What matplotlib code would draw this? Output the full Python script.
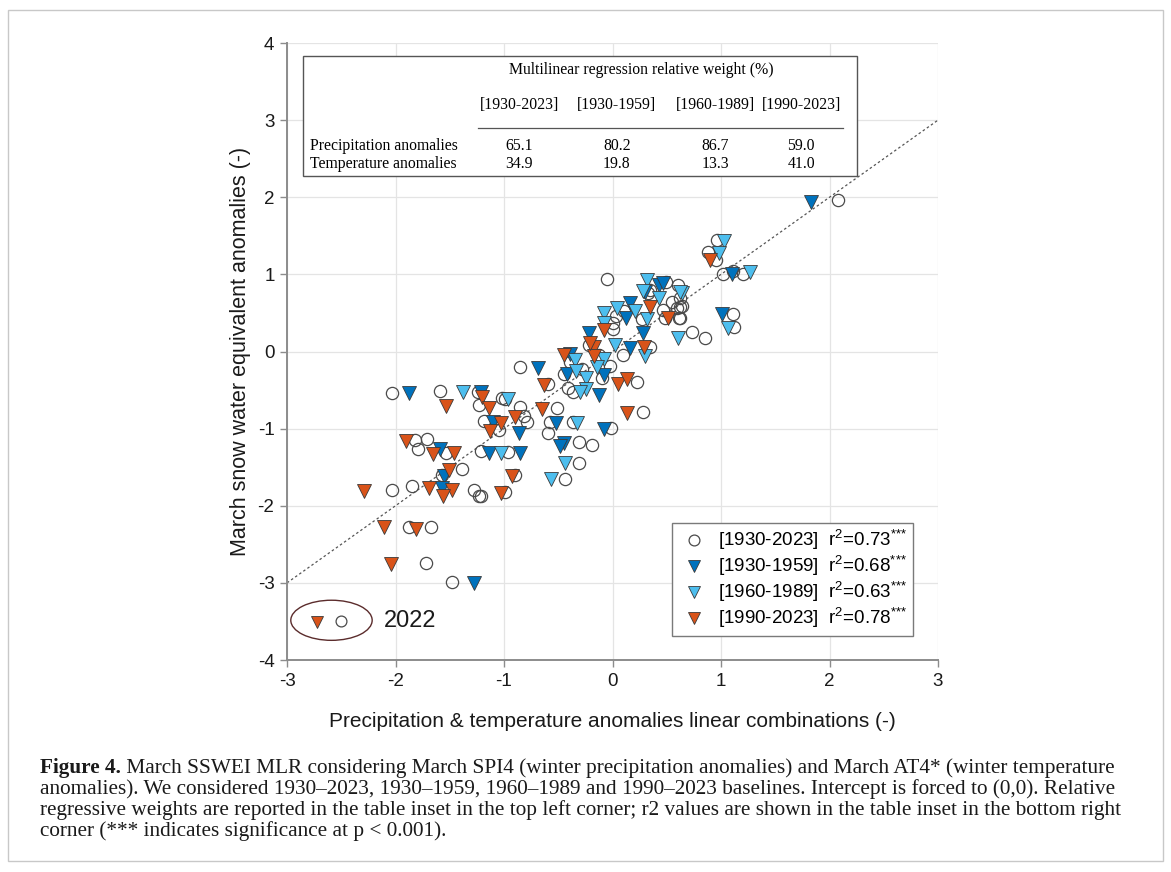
import matplotlib
matplotlib.use("Agg")
import matplotlib.pyplot as plt
from matplotlib.lines import Line2D
from matplotlib.patches import Ellipse, Rectangle
import numpy as np

plt.rcParams['font.family'] = ['Liberation Sans', 'DejaVu Sans']
plt.rcParams['axes.unicode_minus'] = False
plt.rcParams['mathtext.fontset'] = 'custom'
plt.rcParams['mathtext.rm'] = 'Liberation Sans'
plt.rcParams['mathtext.it'] = 'Liberation Sans:italic'
plt.rcParams['mathtext.bf'] = 'Liberation Sans:bold'

# ---------------- data ----------------
all_x = [2.08, 0.96, 0.88, 0.95, 1.11, 1.20, 1.11, 1.12, 0.73, 0.85, 0.64, 0.62,
         -0.05, 0.49, 0.35, 0.60, 0.55, 0.62, 0.62, 0.59, 0.47, 0.11, 0.03, 0.27,
         0.48, 0.61, 0.00, 0.00, 0.35, 0.10, -0.22, -0.12, -0.02, -0.39, -0.45,
         -0.28, -0.10, 0.23, -0.41, -0.36, -0.59, -0.85, 0.28, -0.51, -1.02, -0.99,
         -0.85, -0.82, -0.79, -1.18, -1.05, -0.58, -0.36, -0.01, -0.59, -0.31,
         -0.19, -0.96, -1.21, -0.31, -0.44, -0.90, -0.99, -1.21, -2.03, -1.59,
         -1.24, -1.23, -1.82, -1.71, -1.79, -1.53, -1.39, -1.57, -2.03, -1.85,
         -1.28, -1.23, -1.88, -1.67, -1.72, -1.48, 0.33, 1.02]
all_y = [1.96, 1.44, 1.29, 1.18, 1.05, 1.01, 0.49, 0.32, 0.25, 0.17, 0.59, 0.44,
         0.94, 0.90, 0.80, 0.86, 0.64, 0.69, 0.58, 0.57, 0.54, 0.52, 0.46, 0.42,
         0.44, 0.43, 0.37, 0.29, 0.06, -0.05, 0.08, -0.04, -0.19, -0.14, -0.29,
         -0.23, -0.34, -0.40, -0.47, -0.53, -0.42, -0.20, -0.78, -0.73, -0.60, -0.62,
         -0.72, -0.83, -0.92, -0.90, -1.02, -0.92, -0.92, -0.99, -1.06, -1.17,
         -1.21, -1.30, -1.29, -1.44, -1.65, -1.60, -1.82, -1.88, -0.54, -0.51,
         -0.53, -0.69, -1.15, -1.14, -1.26, -1.31, -1.52, -1.60, -1.80, -1.75,
         -1.79, -1.88, -2.27, -2.28, -2.74, -2.99, 0.76, 1.01]

p1_x = [1.83, 1.10, 1.01, 0.43, 0.47, 0.16, 0.12, 0.28, 0.30, -0.22, 0.16, -0.39,
        -0.42, -0.08, -0.12, -0.69, -1.10, -0.86, -0.52, -0.08, -0.45, -0.48,
        -1.14, -0.85, -1.88, -1.21, -1.59, -1.55, -1.57, -1.28]
p1_y = [1.94, 1.00, 0.48, 0.86, 0.89, 0.63, 0.44, 0.24, 0.77, 0.24, 0.05, -0.03,
        -0.29, -0.31, -0.57, -0.21, -0.92, -1.06, -0.93, -1.00, -1.18, -1.22,
        -1.31, -1.31, -0.54, -0.53, -1.27, -1.61, -1.77, -3.00]

p2_x = [1.03, 0.98, 1.27, 1.06, 0.64, 0.60, 0.32, 0.28, 0.43, 0.62, 0.04, 0.21,
        -0.08, 0.32, -0.08, 0.02, 0.30, -0.35, -0.08, -0.14, -0.34, -0.24, -0.24,
        -0.30, -0.96, -0.33, -1.03, -0.44, -0.57, -1.38]
p2_y = [1.43, 1.28, 1.03, 0.31, 0.76, 0.18, 0.93, 0.79, 0.70, 0.77, 0.57, 0.53,
        0.50, 0.42, 0.37, 0.09, -0.06, -0.11, -0.10, -0.20, -0.25, -0.35, -0.48,
        -0.53, -0.62, -0.93, -1.31, -1.45, -1.65, -0.53]

p3_x = [0.90, 0.35, 0.51, -0.08, 0.29, -0.45, -0.17, -0.17, 0.05, 0.13, -0.63,
        0.13, -0.65, -1.20, -1.14, -0.90, -1.03, -1.13, -0.93, -1.03, -1.53,
        -1.90, -1.65, -1.46, -1.51, -2.29, -1.69, -1.48, -1.56, -2.11, -1.81,
        -2.04, -0.21]
p3_y = [1.18, 0.58, 0.43, 0.28, 0.06, -0.04, 0.06, -0.06, -0.42, -0.36, -0.43,
        -0.80, -0.74, -0.59, -0.73, -0.85, -0.93, -1.03, -1.62, -1.83, -0.71,
        -1.16, -1.33, -1.31, -1.53, -1.81, -1.77, -1.80, -1.87, -2.28, -2.30,
        -2.75, 0.11]

periods = ['[1930-2023]', '[1930-1959]', '[1960-1989]', '[1990-2023]']
r2_vals = ['0.73', '0.68', '0.63', '0.78']
row_labels = ['Precipitation anomalies', 'Temperature anomalies']
precip_w = ['65.1', '80.2', '86.7', '59.0']
temp_w = ['34.9', '19.8', '13.3', '41.0']
highlight_year = '2022'
hl_tri = (-2.72, -3.51)
hl_circ = (-2.50, -3.50)

c_dark = '#0072BD'
c_light = '#4DBEEE'
c_orange = '#D95319'
edge = '#3a3a3a'

# ---------------- figure ----------------
fig = plt.figure(figsize=(11.71, 8.72), dpi=100)
ax = fig.add_axes([287/1171, 1-660/872, (938-287)/1171, (660-43)/872])
ax.set_xlim(-3, 3)
ax.set_ylim(-4, 4)
ax.set_xticks(range(-3, 4))
ax.set_yticks(range(-4, 5))
ax.grid(True, color='#e4e4e4', lw=0.9)
ax.set_axisbelow(True)
for s in ['top', 'right']:
    ax.spines[s].set_visible(False)
for s in ['left', 'bottom']:
    ax.spines[s].set_color('#8c8c8c')
    ax.spines[s].set_linewidth(1.4)
ax.tick_params(direction='out', length=5, width=1, color='#8c8c8c',
               labelsize=13.5, labelcolor='#1a1a1a', pad=4)

ax.plot([-3, 3], [-3, 3], ls=(0, (2, 2)), color='#555555', lw=0.9, zorder=1)

ms = 8.8
ax.plot(all_x, all_y, 'o', ms=ms, mfc='none', mec='#4a4a4a', mew=0.9, zorder=2)
ax.plot(p1_x, p1_y, 'v', ms=ms + 0.8, mfc=c_dark, mec=edge, mew=0.6, zorder=3)
ax.plot(p2_x, p2_y, 'v', ms=ms + 0.8, mfc=c_light, mec=edge, mew=0.6, zorder=3)
ax.plot(p3_x, p3_y, 'v', ms=ms + 0.8, mfc=c_orange, mec=edge, mew=0.6, zorder=3)

ax.set_xlabel('Precipitation & temperature anomalies linear combinations (-)',
              fontsize=15, labelpad=16, color='#1a1a1a')
ax.set_ylabel('March snow water equivalent anomalies (-)', fontsize=15.5,
              labelpad=5, color='#1a1a1a')

# legend
handles = [
    Line2D([], [], ls='none', marker='o', ms=ms - 1, mfc='none', mec='#4a4a4a', mew=0.9),
    Line2D([], [], ls='none', marker='v', ms=ms, mfc=c_dark, mec=edge, mew=0.6),
    Line2D([], [], ls='none', marker='v', ms=ms, mfc=c_light, mec=edge, mew=0.6),
    Line2D([], [], ls='none', marker='v', ms=ms, mfc=c_orange, mec=edge, mew=0.6),
]
labels = [p + '  r$^{2}$=' + r + '$^{{*}{*}{*}}$' for p, r in zip(periods, r2_vals)]
leg = ax.legend(handles, labels, loc='lower right',
                bbox_to_anchor=(0.9616, 0.039), fontsize=13.5, frameon=True,
                fancybox=False, framealpha=1, edgecolor='#7a7a7a',
                handletextpad=0.45, handlelength=1.7, labelspacing=0.1,
                borderpad=0.3, borderaxespad=0)
leg.get_frame().set_linewidth(1.0)

# 2022 annotation
ax.add_patch(Ellipse((-2.59, -3.485), 0.75, 0.52, fill=False,
                     ec='#5b2c2c', lw=1.0, zorder=4))
ax.plot([hl_tri[0]], [hl_tri[1]], 'v', ms=ms, mfc=c_orange, mec=edge, mew=0.6, zorder=5)
ax.plot([hl_circ[0]], [hl_circ[1]], 'o', ms=ms - 1, mfc='none', mec='#4a4a4a', mew=0.9, zorder=5)
ax.text(-2.11, -3.50, highlight_year, fontsize=17, va='center', ha='left', color='#1a1a1a')

# table inset
ax.add_patch(Rectangle((-2.855, 2.28), 2.25 + 2.855, 3.83 - 2.28, fill=True,
                       fc='white', ec='#555555', lw=1.0, zorder=6))
serif = ['Liberation Serif', 'DejaVu Serif']
tfs = 11.3
col_x = [-0.86, 0.04, 0.95, 1.74]
ax.text(0.27, 3.645, 'Multilinear regression relative weight (%)', family=serif,
        fontsize=tfs, ha='center', va='center', zorder=7)
for cx, p in zip(col_x, periods):
    ax.text(cx, 3.19, p, family=serif, fontsize=tfs, ha='center', va='center', zorder=7)
ax.plot([-1.24, 2.125], [2.892, 2.892], color='#555555', lw=0.9, zorder=7)
for ry, lab, vals in zip([2.66, 2.425], row_labels, [precip_w, temp_w]):
    ax.text(-2.786, ry, lab, family=serif, fontsize=tfs, ha='left', va='center', zorder=7)
    for cx, v in zip(col_x, vals):
        ax.text(cx, ry, v, family=serif, fontsize=tfs, ha='center', va='center', zorder=7)

# figure frame
fig.patches.append(Rectangle((8/1171, 1-861/872), (1163-8)/1171, (861-10)/872,
                             transform=fig.transFigure, fill=False,
                             ec='#c8c8c8', lw=1.0))

# caption
cap_lines = [
    ('Figure 4.', ' March SSWEI MLR considering March SPI4 (winter precipitation anomalies) and March AT4* (winter temperature'),
    ('', 'anomalies). We considered 1930\u20132023, 1930\u20131959, 1960\u20131989 and 1990\u20132023 baselines. Intercept is forced to (0,0). Relative'),
    ('', 'regressive weights are reported in the table inset in the top left corner; r2 values are shown in the table inset in the bottom right'),
    ('', 'corner (*** indicates significance at p < 0.001).'),
]
cap_y = [768, 789, 810, 831]
cfs = 12.0
fig.canvas.draw()
renderer = fig.canvas.get_renderer()
probe = fig.text(0, 0, cap_lines[2][1], family=serif, fontsize=cfs)
w = probe.get_window_extent(renderer).width
probe.remove()
cfs = cfs * (1074 / w)
for (bold, rest), yy in zip(cap_lines, cap_y):
    x0 = 40 / 1171
    yf = 1 - yy / 872
    if bold:
        tb = fig.text(x0, yf, bold, family=serif, fontsize=cfs, weight='bold',
                      va='center', ha='left', color='#1a1a1a')
        bw = tb.get_window_extent(renderer).width
        x0 += bw / 1171
    fig.text(x0, yf, rest, family=serif, fontsize=cfs, va='center', ha='left',
             color='#1a1a1a')

fig.savefig('out.png', dpi=100)
